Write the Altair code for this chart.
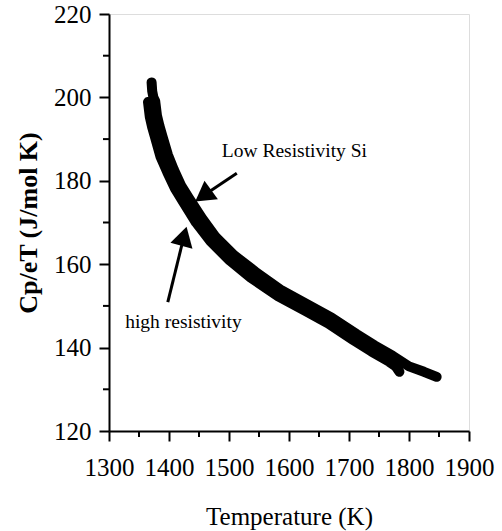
import altair as alt
import pandas as pd

# Series
low_T = [1371, 1372, 1374, 1377, 1380, 1384, 1389, 1398, 1408, 1420, 1433, 1455, 1478, 1509,
         1544, 1588, 1633, 1671, 1713, 1743, 1773, 1800, 1825, 1846]
low_v = [203.6, 201.5, 200.0, 199.1, 195.6, 193.2, 190.7, 186.3, 182.7, 178.9, 175.9, 171.0, 166.5, 162.1,
         158.2, 153.7, 150.2, 147.2, 143.2, 140.5, 138.0, 135.5, 134.2, 133.0]
high_T = [1365, 1368, 1372, 1377, 1386, 1397, 1410, 1423, 1445, 1469, 1501, 1536, 1582, 1627,
          1665, 1707, 1737, 1767, 1778, 1784]
high_v = [198.9, 195.3, 192.8, 190.3, 185.7, 182.1, 178.1, 175.1, 170.0, 165.5, 160.9, 156.8, 152.3, 148.8,
          145.8, 141.8, 139.1, 136.6, 135.5, 134.2]

# tick values
x_major = [1300, 1400, 1500, 1600, 1700, 1800, 1900]
x_minor = [1350, 1450, 1550, 1650, 1750, 1850]
y_major = [120, 140, 160, 180, 200, 220]
y_minor = [130, 150, 170, 190, 210]

# annotations
labels = ["Low Resistivity Si", "high resistivity"]
label_T = [1488, 1327]
label_v = [185.7, 144.6]
arrow_tail_T = [1513, 1398]
arrow_tail_v = [181.8, 150.9]
arrow_head_T = [1457, 1425]
arrow_head_v = [176.4, 166.7]
arrow_angle = [234, 15]

df = pd.concat([
    pd.DataFrame({"T": low_T, "v": low_v, "s": "low"}),
    pd.DataFrame({"T": high_T, "v": high_v, "s": "high"}),
])
lab_df = pd.DataFrame({"T": label_T, "v": label_v, "t": labels})
arr_df = pd.DataFrame({"T": arrow_tail_T, "v": arrow_tail_v,
                       "T2": arrow_head_T, "v2": arrow_head_v, "a": arrow_angle})
xminor_df = pd.DataFrame({"T": x_minor})
yminor_df = pd.DataFrame({"v": y_minor})

FONT = "Liberation Serif"
W, H = 360, 417

xscale = alt.Scale(domain=[1300, 1900], nice=False, zero=False)
yscale = alt.Scale(domain=[120, 220], nice=False, zero=False)

xaxis = alt.Axis(values=x_major, format="d", tickSize=10,
                 labelFont=FONT, labelFontSize=25, labelColor="black", labelPadding=14,
                 labelOverlap=False, labelFlush=False,
                 title="Temperature (K)", titleFont=FONT, titleFontSize=25, titleFontWeight="normal",
                 titleColor="black", titlePadding=24,
                 domainColor="black", domainWidth=2, tickColor="black", tickWidth=2, grid=False)
yaxis = alt.Axis(values=y_major, format="d", tickSize=10,
                 labelFont=FONT, labelFontSize=25, labelColor="black", labelPadding=8,
                 labelOverlap=False, labelFlush=False,
                 title="Cp/eT (J/mol K)", titleFont=FONT, titleFontSize=26, titleFontWeight="bold",
                 titleColor="black", titlePadding=12,
                 domainColor="black", domainWidth=2, tickColor="black", tickWidth=2, grid=False)

curve = alt.Chart(df).mark_line(color="black", strokeWidth=10, strokeCap="round", strokeJoin="round").encode(
    x=alt.X("T:Q", scale=xscale, axis=xaxis),
    y=alt.Y("v:Q", scale=yscale, axis=yaxis),
    detail="s:N",
)

xminor = alt.Chart(xminor_df).mark_rule(color="black", strokeWidth=2, clip=False).encode(
    x=alt.X("T:Q", scale=xscale), y=alt.value(H), y2=alt.value(H + 6))
yminor = alt.Chart(yminor_df).mark_rule(color="black", strokeWidth=2, clip=False).encode(
    y=alt.Y("v:Q", scale=yscale), x=alt.value(-6), x2=alt.value(0))

shafts = alt.Chart(arr_df).mark_rule(color="black", strokeWidth=3).encode(
    x=alt.X("T:Q", scale=xscale), y=alt.Y("v:Q", scale=yscale), x2="T2:Q", y2="v2:Q")

heads = alt.Chart(arr_df).mark_point(shape="triangle-up", filled=True, color="black",
                                     size=520, opacity=1).encode(
    x=alt.X("T2:Q", scale=xscale), y=alt.Y("v2:Q", scale=yscale), angle=alt.Angle("a:Q", scale=None))

texts = alt.Chart(lab_df).mark_text(align="left", baseline="alphabetic", font=FONT, fontSize=19.5,
                                    color="black").encode(
    x=alt.X("T:Q", scale=xscale), y=alt.Y("v:Q", scale=yscale), text="t:N")

chart = alt.layer(curve, xminor, yminor, shafts, heads, texts).properties(
    width=W, height=H,
    autosize=alt.AutoSizeParams(type="none"),
    padding={"left": 109, "top": 14, "right": 33, "bottom": 100},
).configure_view(stroke="black", strokeWidth=2).configure(background="white")

chart.save("out.html", embed_options={"renderer": "svg", "actions": False})
